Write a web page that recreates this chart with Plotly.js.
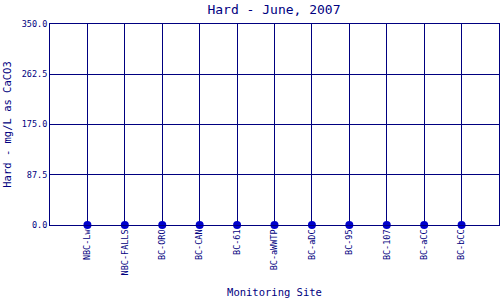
<!DOCTYPE html>
<html><head><meta charset="utf-8">
<script src="https://cdn.plot.ly/plotly-3.0.1.min.js"></script>
<style>html,body{margin:0;padding:0;background:#fff;}#c{width:500px;height:300px;}</style>
</head><body><div id="c"></div>
<script>
const sites = ["NBC-Lw","NBC-FALLS","BC-ORO","BC-CAN","BC-61","BC-aWWTP","BC-aDC","BC-95","BC-107","BC-aCC","BC-bCC"];
const hardness = [0,0,0,0,0,0,0,0,0,0,0];
const yTicks = [0,87.5,175,262.5,350];
const yTickText = ["0.0","87.5","175.0","262.5","350.0"];
const navy = "#000080";
const fontFam = "DejaVu Sans Mono, monospace";
Plotly.newPlot("c", [{
  x: sites.map((s,i)=>i), y: hardness, type: "scatter", mode: "markers",
  marker: {color: "#0000cc", size: 8, symbol: "circle"},
  cliponaxis: false, hoverinfo: "none"
}], {
  width: 500, height: 300,
  margin: {l: 50, r: 1, t: 24, b: 75},
  paper_bgcolor: "#fff", plot_bgcolor: "#fff",
  showlegend: false,
  title: {text: "Hard - June, 2007", x: 0.548, xanchor: "center", y: 0.97, yanchor: "middle",
          font: {family: fontFam, size: 13, color: navy}},
  xaxis: {range: [-1, 11], tickvals: sites.map((s,i)=>i), ticktext: sites, tickangle: -90,
          showgrid: true, gridcolor: navy, gridwidth: 1, zeroline: false,
          showline: true, linecolor: navy, linewidth: 1, mirror: true, ticks: "",
          tickfont: {family: fontFam, size: 8.5, color: navy},
          title: {text: "Monitoring Site", standoff: 14, font: {family: fontFam, size: 10.5, color: navy}}},
  yaxis: {range: [0, 350], tickvals: yTicks, ticktext: yTickText,
          showgrid: true, gridcolor: navy, gridwidth: 1, zeroline: false,
          showline: true, linecolor: navy, linewidth: 1, mirror: true, ticks: "",
          tickfont: {family: fontFam, size: 8.5, color: navy},
          title: {text: "Hard - mg/L as CaCO3", standoff: 8, font: {family: fontFam, size: 10.5, color: navy}}}
}, {staticPlot: true});
</script></body></html>
